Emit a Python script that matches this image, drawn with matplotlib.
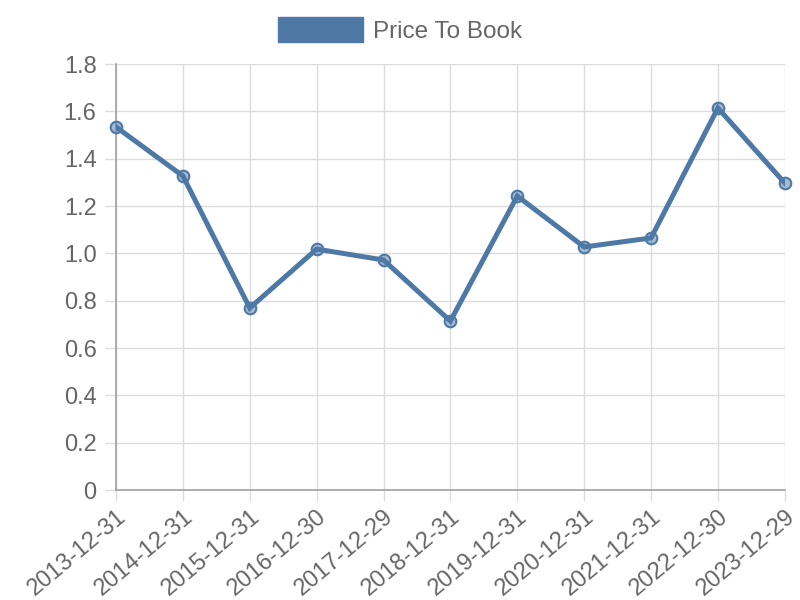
import matplotlib.pyplot as plt
from matplotlib.patches import Patch

dates = ["2013-12-31", "2014-12-31", "2015-12-31", "2016-12-30", "2017-12-29",
         "2018-12-31", "2019-12-31", "2020-12-31", "2021-12-31", "2022-12-30",
         "2023-12-29"]
price_to_book = [1.534, 1.327, 0.769, 1.018, 0.972, 0.714, 1.242, 1.027, 1.065, 1.614, 1.297]
yticks = [0, 0.2, 0.4, 0.6, 0.8, 1.0, 1.2, 1.4, 1.6, 1.8]
ytick_labels = ["0", "0.2", "0.4", "0.6", "0.8", "1.0", "1.2", "1.4", "1.6", "1.8"]

plt.rcParams["font.family"] = ["Liberation Sans", "DejaVu Sans"]

LINE = "#4e79a7"
GRID = "#dcdcdc"
AXIS = "#a0a0a0"
TEXT = "#666666"

fig = plt.figure(figsize=(8, 6), dpi=100)
ax = fig.add_axes([0.145, 0.1833, 0.836, 0.71])

x = list(range(len(dates)))
ax.plot(x, price_to_book, color=LINE, lw=3.6, zorder=3, solid_joinstyle="miter")
ax.scatter(x, price_to_book, s=70, facecolor=(0.306, 0.475, 0.655, 0.5),
           edgecolor=LINE, linewidth=1.5, zorder=4, clip_on=False)

ax.set_xlim(0, len(dates) - 1)
ax.set_ylim(0, 1.8)
ax.set_yticks(yticks)
ax.set_yticklabels(ytick_labels)
ax.set_xticks(x)
ax.set_xticklabels(dates, rotation=40, ha="right", rotation_mode="anchor")

ax.grid(True, color=GRID, lw=1)
ax.set_axisbelow(True)
for side in ["top", "right"]:
    ax.spines[side].set_visible(False)
for side in ["left", "bottom"]:
    ax.spines[side].set_color(AXIS)
    ax.spines[side].set_linewidth(1.2)
ax.tick_params(axis="both", colors=GRID, length=8, width=1, labelcolor=TEXT,
               labelsize=17, pad=3)
ax.tick_params(axis="y", pad=6)

fig.legend(handles=[Patch(facecolor=LINE, edgecolor=LINE, label="Price To Book")],
           loc="upper center", bbox_to_anchor=(0.5, 1.008), frameon=False,
           fontsize=17.5, labelcolor=TEXT, handlelength=3.5, handleheight=1.2,
           handletextpad=0.4)

fig.savefig("out.png", dpi=100)
